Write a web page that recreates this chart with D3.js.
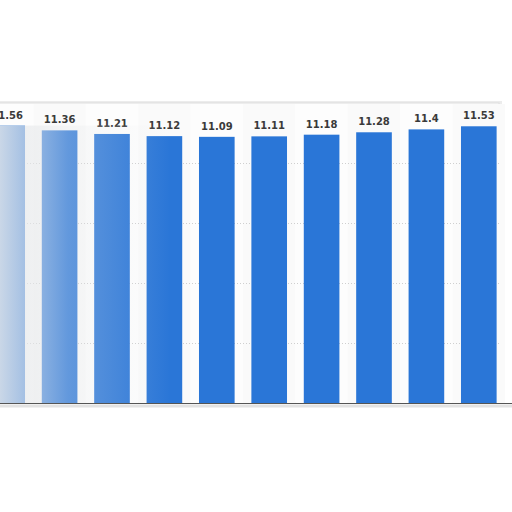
<!DOCTYPE html>
<html>
<head>
<meta charset="utf-8">
<script src="https://cdn.jsdelivr.net/npm/d3@7"></script>
<style>
  body { margin: 0; background: #fff; }
  svg { display: block; }
</style>
</head>
<body>
<div id="chart"></div>
<script>
// values, left to right
var categories = ["1", "2", "3", "4", "5", "6", "7", "8", "9", "10"];
var values = [11.56, 11.36, 11.21, 11.12, 11.09, 11.11, 11.18, 11.28, 11.4, 11.53];
var yTicks = [0, 2.5, 5, 7.5, 10, 12.5];

var width = 512, height = 512;
var plotTop = 103, plotBottom = 403, plotLeft = -1, plotRight = 499;

var svg = d3.select("#chart").append("svg")
  .attr("width", width)
  .attr("height", height);

var x = d3.scaleBand()
  .domain(categories)
  .range([-19, 505])
  .paddingInner(0.32)
  .paddingOuter(0.16);

var y = d3.scaleLinear()
  .domain([0, 12.5])
  .range([plotBottom, plotTop]);

// chart frame with a soft shadow
svg.append("rect")
  .attr("x", plotLeft)
  .attr("y", plotTop - 2)
  .attr("width", plotRight - plotLeft + 3)
  .attr("height", plotBottom - plotTop + 2)
  .attr("fill", "#ececec");
svg.append("rect")
  .attr("x", plotLeft)
  .attr("y", plotTop)
  .attr("width", plotRight - plotLeft)
  .attr("height", plotBottom - plotTop)
  .attr("fill", "#fff")
  .attr("stroke", "#dcdcdc");

// faint column bands
svg.append("g").selectAll("rect")
  .data(categories)
  .enter().append("rect")
  .attr("x", function(d) { return x(d) - x.step() * x.paddingInner() / 2; })
  .attr("y", plotTop + 1)
  .attr("width", x.step())
  .attr("height", plotBottom - plotTop - 1)
  .attr("fill", function(d, i) { return i % 2 ? "#fafafa" : "#fdfdfd"; });

// dotted grid
svg.append("g")
  .attr("transform", "translate(" + plotRight + ",0)")
  .call(d3.axisRight(y).tickValues(yTicks.slice(1, -1)).tickSize(-(plotRight - plotLeft)).tickFormat(""))
  .call(function(g) {
    g.select(".domain").remove();
    g.selectAll("line").attr("stroke", "#cfcfcf").attr("stroke-dasharray", "1,2");
  });

// bars
svg.append("g").selectAll("rect")
  .data(values)
  .enter().append("rect")
  .attr("x", function(d, i) { return x(categories[i]); })
  .attr("y", function(d) { return y(d); })
  .attr("width", x.bandwidth())
  .attr("height", function(d) { return plotBottom - y(d); })
  .attr("fill", "#2a76d7");

// value labels
svg.append("g").selectAll("text")
  .data(values)
  .enter().append("text")
  .attr("x", function(d, i) { return x(categories[i]) + x.bandwidth() / 2; })
  .attr("y", function(d) { return y(d) - 7; })
  .attr("text-anchor", "middle")
  .attr("font-family", "'DejaVu Sans', sans-serif")
  .attr("font-weight", "bold")
  .attr("font-size", "10px")
  .attr("fill", "#3a3a3a")
  .text(function(d) { return d; });

// x axis
svg.append("g")
  .attr("transform", "translate(0," + plotBottom + ")")
  .call(d3.axisBottom(x).tickSize(0).tickFormat(""))
  .call(function(g) {
    g.select(".domain").attr("stroke", "#555").attr("d", "M0,0.5H512");
  });
svg.append("rect")
  .attr("x", 0).attr("y", plotBottom + 1.5)
  .attr("width", 512).attr("height", 3)
  .attr("fill", "#e2e2e2");

// washed-out left side
var defs = svg.append("defs");
var grad = defs.append("linearGradient").attr("id", "fade");
grad.append("stop").attr("offset", "0%").attr("stop-color", "#e6e8ea").attr("stop-opacity", 0.85);
grad.append("stop").attr("offset", "40%").attr("stop-color", "#e6e8ea").attr("stop-opacity", 0.3);
grad.append("stop").attr("offset", "100%").attr("stop-color", "#e6e8ea").attr("stop-opacity", 0);
svg.append("rect")
  .attr("x", 0).attr("y", y(values[0]))
  .attr("width", 170).attr("height", plotBottom - y(values[0]))
  .attr("fill", "url(#fade)");
</script>
</body>
</html>
